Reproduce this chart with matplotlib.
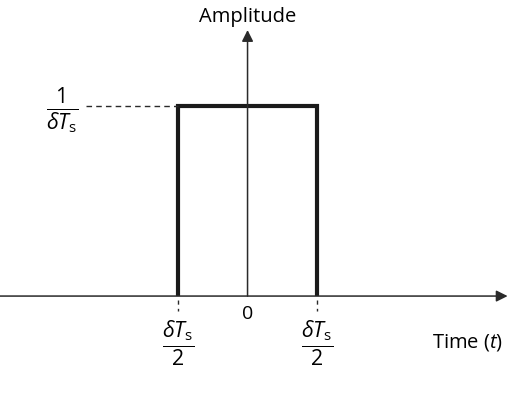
import numpy as np
import matplotlib
matplotlib.use("Agg")
import matplotlib.pyplot as plt

plt.rcParams['font.family'] = ['Open Sans', 'DejaVu Sans']
plt.rcParams['mathtext.fontset'] = 'custom'
plt.rcParams['mathtext.rm'] = 'Open Sans'
plt.rcParams['mathtext.it'] = 'Open Sans:italic'

# pulse in units of delta T_s, amplitude in units of 1/delta T_s
pulse_t = [-0.5, -0.5, 0.5, 0.5]
pulse_a = [0.0, 1.0, 1.0, 0.0]
height = 1.0
x_ticks = [-0.5, 0.0, 0.5]
x_labels = [r'$\frac{\delta T_\mathrm{s}}{2}$', '0', r'$\frac{\delta T_\mathrm{s}}{2}$']

fig = plt.figure(figsize=(5.09, 4.04), dpi=100)
ax = fig.add_axes([0, 0, 1, 1])
ax.set_xlim(-1.78, 1.88)
ax.set_ylim(-0.568, 1.558)
ax.axis('off')

# axes with arrows
ax.annotate('', xy=(1.87, 0), xytext=(-1.78, 0),
            arrowprops=dict(arrowstyle='-|>', lw=1.1, color='#2a2a2a',
                            mutation_scale=17, shrinkA=0, shrinkB=0))
ax.annotate('', xy=(0, 1.40), xytext=(0, 0),
            arrowprops=dict(arrowstyle='-|>', lw=1.1, color='#2a2a2a',
                            mutation_scale=17, shrinkA=0, shrinkB=0))

# pulse
ax.plot(pulse_t, pulse_a, color='#1a1a1a', lw=3, solid_joinstyle='miter',
        solid_capstyle='butt')

# dashed level line
ax.plot([-1.16, -0.5], [height, height], color='#2a2a2a', lw=1,
        ls=(0, (4, 3)))

# dashed ticks below the pulse edges
for xt in [-0.5, 0.5]:
    ax.plot([xt, xt], [-0.02, -0.08], color='#2a2a2a', lw=1, ls=(0, (3, 3)))

# labels
ax.text(0, 1.47, 'Amplitude', ha='center', va='center', fontsize=14.5)
ax.text(-1.33, 0.975, r'$\frac{1}{\delta T_\mathrm{s}}$', ha='center',
        va='center', fontsize=22)
for xt, lab in zip(x_ticks, x_labels):
    if lab == '0':
        ax.text(xt, -0.095, lab, ha='center', va='center', fontsize=14)
    else:
        ax.text(xt, -0.25, lab, ha='center', va='center', fontsize=22)
ax.text(1.585, -0.245, r'Time $(t)$', ha='center', va='center', fontsize=14.5)

fig.savefig('out.png', dpi=100)
